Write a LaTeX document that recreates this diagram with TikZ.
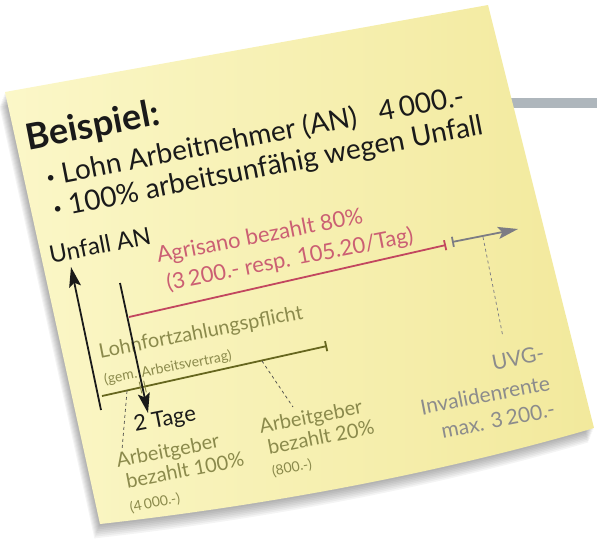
\documentclass[tikz,border=0pt]{standalone}
\usepackage{fontspec}
\setmainfont{Lato}
\usetikzlibrary{calc,arrows,arrows.meta}
\definecolor{notelight}{HTML}{FBF7C8}
\definecolor{notedark}{HTML}{F2E99C}
\definecolor{barcolor}{HTML}{AEB6BC}
\definecolor{inkblack}{HTML}{1A1A1A}
\definecolor{agrired}{HTML}{CB5F73}
\definecolor{agriline}{HTML}{C2465F}
\definecolor{oliveink}{HTML}{8B8A4C}
\definecolor{oliveline}{HTML}{66661E}
\definecolor{uvggray}{HTML}{8C8C8C}
\definecolor{uvgline}{HTML}{7C7C84}
\newcommand{\dotbullet}{\raisebox{3pt}{\fontsize{15}{15}\selectfont\textbullet}}

\begin{document}
\begin{tikzpicture}[x=1pt,y=-1pt,
    notepath/.style={insert path={(5,92) -- (488,5) -- (594,428) .. controls (440,473) and (270,505) .. (100,524) -- cycle}},
    hand/.style={rotate=11,inner sep=0pt},
    maintext/.style={hand,text=inkblack,font=\fontsize{28}{30}\selectfont},
    redtext/.style={hand,text=agrired,font=\fontsize{22}{24}\selectfont},
    olivetext/.style={hand,text=oliveink,font=\fontsize{20}{22}\selectfont},
    olivesmall/.style={hand,text=oliveink,font=\fontsize{14}{16}\selectfont},
    graytext/.style={hand,text=uvggray,font=\fontsize{21}{23}\selectfont},
    >={Stealth[length=20pt,width=12pt,inset=4pt]},
    blackarrow/.style={draw=inkblack,line width=1.8pt,->},
    timeline/.style={line width=1.8pt},
    dashline/.style={dashed,line width=0.7pt}]
    \useasboundingbox (0,0) rectangle (597,550);
    \fill[barcolor] (470,98) rectangle (597,108);
    \foreach \s in {1,...,8}
        \fill[black,opacity=0.045,shift={(-0.7*\s,1.8*\s)},notepath];
    \shade[left color=notelight,right color=notedark,notepath];

    \node[hand,text=inkblack,font=\fontsize{36}{40}\selectfont\bfseries] (beispiel) at (93,127) {Beispiel:};
    \node[maintext] (lohn) at (255,137) {\dotbullet\ Lohn Arbeitnehmer (AN)\hspace{0.8em}4\,000.-};
    \node[maintext] (unfall100) at (268,168) {\dotbullet\ 100\% arbeitsunfähig wegen Unfall};
    \node[hand,text=inkblack,font=\fontsize{24}{26}\selectfont] (unfallan) at (100,245) {Unfall AN};
    \node[redtext] (agri1) at (260,237) {Agrisano bezahlt 80\%};
    \node[redtext] (agri2) at (290,260) {(3\,200.- resp. 105.20/Tag)};
    \node[olivetext] (lfz) at (201,333) {Lohnfortzahlungspflicht};
    \node[olivesmall] (gem) at (168,368) {(gem. Arbeitsvertrag)};
    \node[hand,text=inkblack,font=\fontsize{22}{24}\selectfont] (tage) at (165,420) {2 Tage};
    \node[olivetext] (ag1a) at (168,452) {Arbeitgeber};
    \node[olivetext] (ag1b) at (185,470) {bezahlt 100\%};
    \node[olivesmall] (ag1c) at (155,503) {(4\,000.-)};
    \node[olivetext] (ag2a) at (311,418) {Arbeitgeber};
    \node[olivetext] (ag2b) at (321,437) {bezahlt 20\%};
    \node[olivesmall] (ag2c) at (292,468) {(800.-)};
    \node[graytext] (uvg1) at (518,358) {UVG-};
    \node[graytext] (uvg2) at (485,395) {Invalidenrente};
    \node[graytext] (uvg3) at (498,420) {max. 3\,200.-};

    \coordinate (upbot) at (101,410);
    \coordinate (uptop) at (71,267);
    \coordinate (downtop) at (120,283);
    \coordinate (downbot) at (148,413);
    \coordinate (agristart) at (129,317);
    \coordinate (agriend) at (446,245);
    \coordinate (lfzstart) at (102,396);
    \coordinate (lfzend) at (327,346);
    \coordinate (uvgstart) at (452,242);
    \coordinate (uvgend) at (518,229);
    \coordinate (ag1top) at (127,391);
    \coordinate (ag1bot) at (122,450);
    \coordinate (ag2top) at (262,361);
    \coordinate (ag2bot) at (293,407);
    \coordinate (uvgtop) at (483,237);
    \coordinate (uvgbot) at (503,337);

    \draw[timeline,agriline,-|] (agristart) -- (agriend);
    \draw[timeline,oliveline,-|] (lfzstart) -- (lfzend);
    \draw[timeline,uvgline,|->] (uvgstart) -- (uvgend);
    \draw[dashline,inkblack!80] (ag1top) -- (ag1bot);
    \draw[dashline,inkblack!80] (ag2top) -- (ag2bot);
    \draw[dashline,uvgline] (uvgtop) -- (uvgbot);
    \draw[blackarrow] (upbot) -- (uptop);
    \draw[blackarrow] (downtop) -- (downbot);
    \draw[oliveink,line width=0.9pt] (140.5,387.5) ++(-1.3,-5.9) -- ++(2.6,11.8);
    \draw[oliveink,line width=0.9pt] (145,386.5) ++(-1.3,-5.9) -- ++(2.6,11.8);
\end{tikzpicture}
\end{document}
